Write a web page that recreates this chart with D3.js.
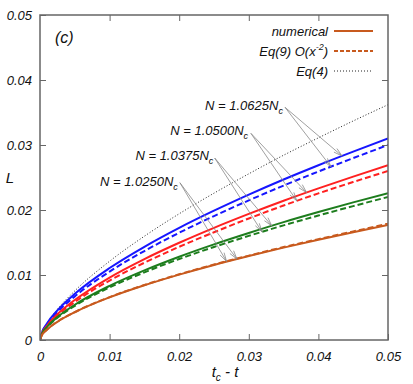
<!DOCTYPE html>
<html>
<head>
<meta charset="utf-8">
<script src="https://cdn.jsdelivr.net/npm/d3@7"></script>
<style>
  body { margin: 0; background: #fff; }
  text { font-family: "Liberation Sans", Arial, sans-serif; font-style: italic; fill: #111; }
</style>
</head>
<body>
<div id="chart"></div>
<script>
// t_c - t sample points
const tVals = [0, 0.0002, 0.001, 0.0025, 0.005, 0.01, 0.015, 0.02, 0.025, 0.03, 0.035, 0.04, 0.045, 0.05];

// L values
const eq4      = [0, 0.00090, 0.00253, 0.00472, 0.00756, 0.01212, 0.01597, 0.01942, 0.02259, 0.02557, 0.02843, 0.03110, 0.03370, 0.0362];
const numBlue  = [0, 0.00090, 0.00253, 0.00456, 0.00710, 0.01107, 0.01434, 0.01725, 0.01989, 0.02236, 0.02469, 0.02689, 0.02898, 0.0310];
const eq9Blue  = [0, 0.00085, 0.00236, 0.00429, 0.00671, 0.01053, 0.01369, 0.01650, 0.01907, 0.02148, 0.02376, 0.02592, 0.02798, 0.0300];
const numRed   = [0, 0.00079, 0.00220, 0.00396, 0.00616, 0.00961, 0.01245, 0.01496, 0.01726, 0.01940, 0.02143, 0.02333, 0.02514, 0.0269];
const eq9Red   = [0, 0.00074, 0.00206, 0.00374, 0.00584, 0.00915, 0.01189, 0.01434, 0.01658, 0.01870, 0.02069, 0.02256, 0.02431, 0.0260];
const numGreen = [0, 0.00074, 0.00200, 0.00353, 0.00542, 0.00833, 0.01071, 0.01281, 0.01471, 0.01646, 0.01813, 0.01968, 0.02117, 0.0226];
const eq9Green = [0, 0.00071, 0.00193, 0.00341, 0.00525, 0.00809, 0.01041, 0.01246, 0.01431, 0.01602, 0.01764, 0.01915, 0.02060, 0.0220];
const numOrange= [0, 0.00059, 0.00158, 0.00279, 0.00427, 0.00656, 0.00842, 0.01006, 0.01155, 0.01291, 0.01421, 0.01542, 0.01659, 0.0177];
const eq9Orange= [0, 0.00060, 0.00160, 0.00282, 0.00430, 0.00660, 0.00846, 0.01011, 0.01161, 0.01298, 0.01430, 0.01552, 0.01670, 0.0179];

const xTicks = [0, 0.01, 0.02, 0.03, 0.04, 0.05];
const yTicks = [0, 0.01, 0.02, 0.03, 0.04, 0.05];
const xTickLabels = ["0", "0.01", "0.02", "0.03", "0.04", "0.05"];
const yTickLabels = ["0", "0.01", "0.02", "0.03", "0.04", "0.05"];

const nLabels = ["1.0625", "1.0500", "1.0375", "1.0250"];

const width = 413, height = 384;
const margin = {top: 15, right: 25, bottom: 44, left: 40};

const colors = {blue: "#1616ff", red: "#ff2020", green: "#1d7d1d", orange: "#c85a1e"};

const x = d3.scaleLinear().domain([0, 0.05]).range([margin.left, width - margin.right]);
const y = d3.scaleLinear().domain([0, 0.05]).range([height - margin.bottom, margin.top]);

const svg = d3.select("#chart").append("svg")
    .attr("width", width)
    .attr("height", height);

const line = d3.line()
    .x(d => x(d[0]))
    .y(d => y(d[1]))
    .curve(d3.curveMonotoneX);

const series = [
  {v: eq4, color: "#222", w: 1, dash: "1,2"},
  {v: numBlue, color: colors.blue, w: 2, dash: null},
  {v: eq9Blue, color: colors.blue, w: 2, dash: "6,3"},
  {v: numRed, color: colors.red, w: 2, dash: null},
  {v: eq9Red, color: colors.red, w: 2, dash: "6,3"},
  {v: numGreen, color: colors.green, w: 2, dash: null},
  {v: eq9Green, color: colors.green, w: 2, dash: "6,3"},
  {v: numOrange, color: colors.orange, w: 2, dash: null},
  {v: eq9Orange, color: colors.orange, w: 2, dash: "6,3"}
];

svg.append("defs").append("clipPath").attr("id", "clip")
  .append("rect")
    .attr("x", margin.left).attr("y", margin.top)
    .attr("width", x(0.05) - x(0)).attr("height", y(0) - y(0.05));

svg.append("g").attr("clip-path", "url(#clip)")
  .selectAll("path")
  .data(series)
  .enter().append("path")
    .attr("d", s => line(tVals.map((t, i) => [t, s.v[i]])))
    .attr("fill", "none")
    .attr("stroke", s => s.color)
    .attr("stroke-width", s => s.w)
    .attr("stroke-dasharray", s => s.dash);

// axes: ticks inside, mirrored
const axisColor = "#666";
const tl = 6;
function styleAxis(g) {
  g.select(".domain").remove();
  g.selectAll(".tick line").attr("stroke", axisColor);
  g.selectAll(".tick text").attr("fill", "#111")
    .style("font-size", "13px").style("font-style", "italic")
    .style("font-family", "Liberation Sans, Arial, sans-serif");
}
svg.append("g")
    .attr("transform", `translate(0,${y(0)})`)
    .call(d3.axisBottom(x).tickValues(xTicks).tickSize(-tl).tickPadding(12)
      .tickFormat((d, i) => xTickLabels[i]))
    .call(styleAxis);
svg.append("g")
    .attr("transform", `translate(0,${y(0.05)})`)
    .call(d3.axisTop(x).tickValues(xTicks.slice(1, -1)).tickSize(-tl).tickFormat(""))
    .call(styleAxis);
svg.append("g")
    .attr("transform", `translate(${x(0)},0)`)
    .call(d3.axisLeft(y).tickValues(yTicks).tickSize(-tl).tickPadding(8)
      .tickFormat((d, i) => yTickLabels[i]))
    .call(styleAxis);
svg.append("g")
    .attr("transform", `translate(${x(0.05)},0)`)
    .call(d3.axisRight(y).tickValues(yTicks.slice(1, -1)).tickSize(-tl).tickFormat(""))
    .call(styleAxis);

svg.append("rect")
    .attr("x", x(0)).attr("y", y(0.05))
    .attr("width", x(0.05) - x(0)).attr("height", y(0) - y(0.05))
    .attr("fill", "none").attr("stroke", axisColor).attr("stroke-width", 1.5);

// axis titles
const xt = svg.append("text")
    .attr("x", 225).attr("y", 377)
    .attr("text-anchor", "middle")
    .style("font-size", "15px");
xt.append("tspan").text("t");
xt.append("tspan").attr("dy", 4).style("font-size", "10px").text("c");
xt.append("tspan").attr("dy", -4).text(" - t");

svg.append("text")
    .attr("x", 10).attr("y", 183)
    .attr("text-anchor", "middle")
    .style("font-size", "15px")
    .text("L");

svg.append("text")
    .attr("x", 55).attr("y", 43)
    .style("font-size", "16px")
    .text("(c)");

// legend
const legend = [
  {label: ["Eq(4)"], color: "#222", w: 1, dash: "1,2", yy: 71},
  {label: ["Eq(9) O(x", "-2", ")"], color: colors.orange, w: 2, dash: "4,2", yy: 51},
  {label: ["numerical"], color: colors.orange, w: 2, dash: null, yy: 31}
];
legend.forEach(l => {
  const t = svg.append("text")
      .attr("x", 328).attr("y", l.yy + 5)
      .attr("text-anchor", "end")
      .style("font-size", "13px");
  t.append("tspan").text(l.label[0]);
  if (l.label.length > 1) {
    t.append("tspan").attr("dy", -6).style("font-size", "9px").text(l.label[1]);
    t.append("tspan").attr("dy", 6).text(l.label[2]);
  }
  svg.append("line")
      .attr("x1", 334).attr("x2", 373)
      .attr("y1", l.yy).attr("y2", l.yy)
      .attr("stroke", l.color).attr("stroke-width", l.w)
      .attr("stroke-dasharray", l.dash);
});

// annotations: label end (t, L), arrow start (t, L), tip t on solid and dashed curves
const annotations = [
  {n: nLabels[0], lt: 0.0349, lL: 0.0354, st: 0.0352, sL: 0.0358, solid: numBlue,   dashed: eq9Blue,   ts: 0.0434, td: 0.0418},
  {n: nLabels[1], lt: 0.0299, lL: 0.0315, st: 0.0303, sL: 0.0318, solid: numRed,    dashed: eq9Red,    ts: 0.0383, td: 0.0369},
  {n: nLabels[2], lt: 0.0249, lL: 0.0277, st: 0.0251, sL: 0.0280, solid: numGreen,  dashed: eq9Green,  ts: 0.0333, td: 0.0319},
  {n: nLabels[3], lt: 0.0198, lL: 0.0237, st: 0.0201, sL: 0.0242, solid: numOrange, dashed: eq9Orange, ts: 0.0283, td: 0.0268}
];

const bis = d3.bisector(d => d).left;
function valueAt(arr, t) {
  const i = Math.max(1, bis(tVals, t));
  const t0 = tVals[i - 1], t1 = tVals[i];
  return arr[i - 1] + (arr[i] - arr[i - 1]) * (t - t0) / (t1 - t0);
}

function arrow(x0, y0, x1, y1) {
  const ang = Math.atan2(y1 - y0, x1 - x0);
  const len = 9, spread = 0.26;
  const a1 = [x1 - len * Math.cos(ang - spread), y1 - len * Math.sin(ang - spread)];
  const a2 = [x1 - len * Math.cos(ang + spread), y1 - len * Math.sin(ang + spread)];
  svg.append("path")
      .attr("d", `M${x0},${y0}L${x1},${y1}M${a1[0]},${a1[1]}L${x1},${y1}L${a2[0]},${a2[1]}`)
      .attr("fill", "none").attr("stroke", "#888").attr("stroke-width", 0.8);
}

annotations.forEach(a => {
  const t = svg.append("text")
      .attr("x", x(a.lt)).attr("y", y(a.lL))
      .attr("text-anchor", "end")
      .style("font-size", "13px");
  t.append("tspan").text(`N = ${a.n}N`);
  t.append("tspan").attr("dy", 4).style("font-size", "9px").text("c");

  const sx = x(a.st), sy = y(a.sL);
  arrow(sx, sy, x(a.ts), y(valueAt(a.solid, a.ts)));
  arrow(sx, sy, x(a.td), y(valueAt(a.dashed, a.td)));
});
</script>
</body>
</html>
